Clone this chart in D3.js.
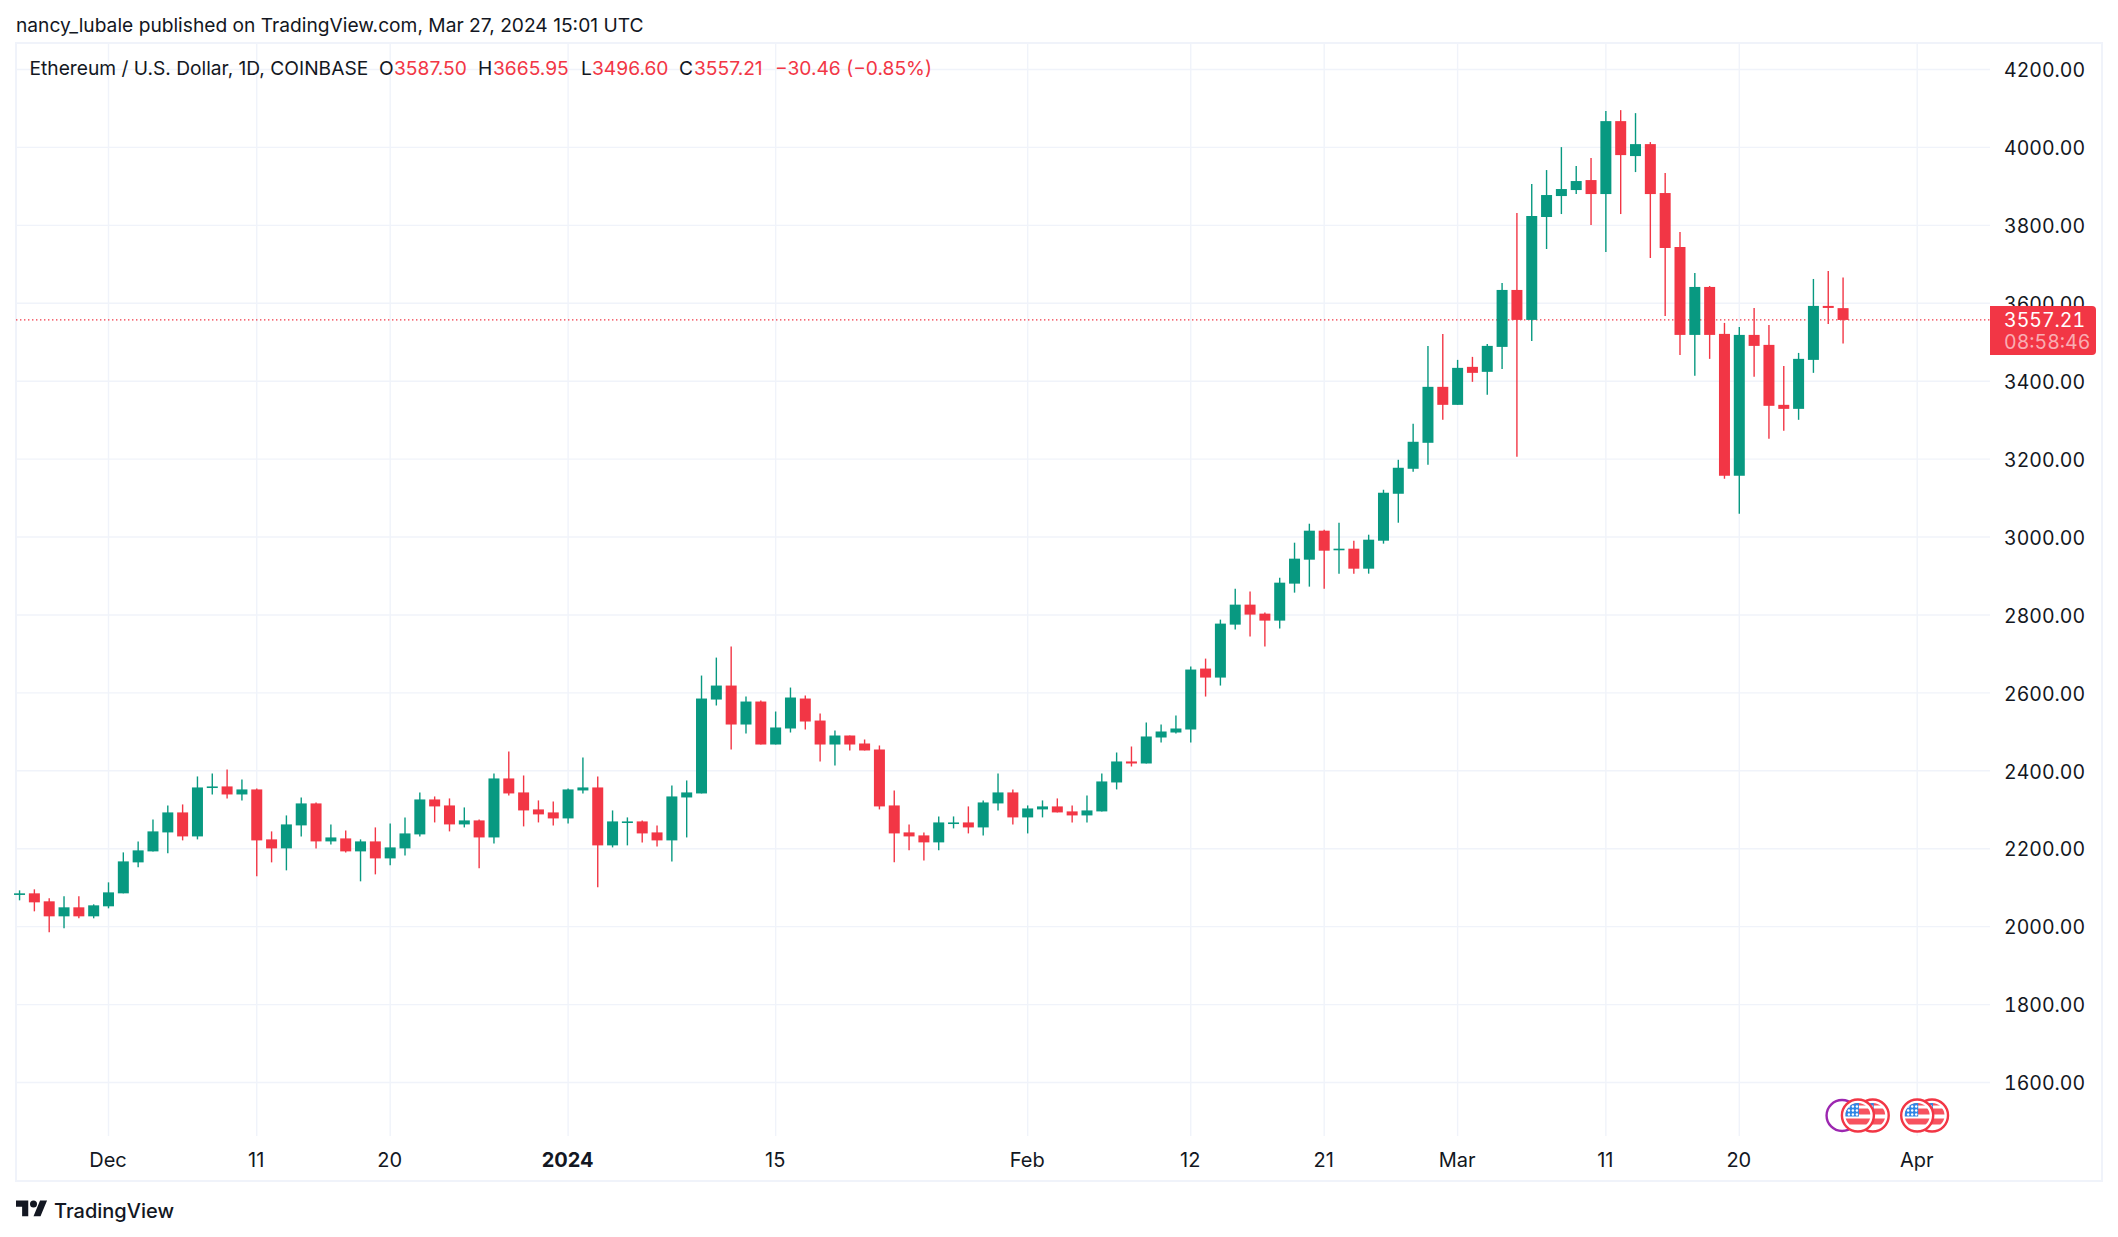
<!DOCTYPE html>
<html>
<head>
<meta charset="utf-8">
<style>
html, body { margin: 0; background: #fff; }
svg { display: block; }
text { font-family: Inter, sans-serif; fill: #131722; }
.axis .domain, .axis line { display: none; }
.axis text { font-family: Inter, sans-serif; font-size: 20px; fill: #131722; }
.price text, .tag { font-feature-settings: "tnum"; }
</style>
</head>
<body>
<div id="ch1"></div>
<script src="https://d3js.org/d3.v7.min.js"></script>
<script>
// daily ETHUSD candles, first one is 25 Nov 2023
var firstDay = "2023-11-25";

var open = [
2083.8,2085.5,2065,2026.5,2049.6,2026.5,2052.2,2085.5,2165,2193.2,2241.9,2293.2,2231.6,2357.3,2359.9,2339.3,
2352.2,2224,2200.9,2259.9,2316.3,2218.8,2226.5,2193.2,2218.8,2175.2,2200.9,2236.8,2326.5,2311.1,2262.4,2272.7,
2229,2380.4,2344.5,2300.9,2293.2,2277.8,2349.6,2357.3,2208.6,2267.5,2270.1,2241.9,2221.4,2331.6,
2341.9,2582.9,2618.8,2518.8,2577.8,2467.5,2508.6,2585.5,2529,2467.5,2490.6,2470.1,2454.7,2311.1,2241.9,2234.2,
2216.3,2265,2267.5,2254.7,2316.3,2344.5,2280.4,2300.9,2308.6,2295.8,2285.5,2295.8,2370.1,2424,2418.8,2485.5,2498.3,2506,
2662.4,2639.3,2775.2,2826.5,2803.4,2785.5,2880.4,2941.9,3016.3,2967.5,2970.1,2918.8,2990.6,3111.1,3175.2,3241.9,
3385.5,3339.3,3436.8,3424,3488,3634.2,3557.3,3821.4,3875.2,3890.6,3916.2,3880.3,4067.5,3977.8,4008.5,3882.9,
3744.4,3518.8,3641.9,3521.4,3157.3,3518.8,3493.2,3339.3,3329,3454.7,3593.2,3587.5
];
var high = [
2093.2,2095.8,2072.7,2077.8,2077.8,2057.3,2113.7,2190.6,2218.8,2275.2,2311.1,2313.7,2385.5,2393.2,2403.4,2377.8,
2354.7,2244.5,2285.5,2331.6,2318.8,2262.4,2247,2224,2254.7,2265,2280.4,2344.5,2334.2,2329.1,2306,2275.2,
2393.2,2449.6,2388,2324,2321.4,2354.7,2434.2,2385.5,2298.3,2280.4,2272.7,2259.9,2362.4,2375.2,
2644.5,2690.6,2718.8,2590.6,2580.4,2552.2,2613.7,2593.2,2547,2503.4,2490.6,2480.4,2465,2349.6,2262.4,2241.9,
2282.9,2282.9,2308.6,2324,2393.2,2352.2,2311.1,2324,2329.1,2311.1,2336.8,2393.2,2447,2462.4,2524,2518.8,2541.9,2667.5,
2688,2788,2867.5,2859.9,2806,2895.7,2985.5,3034.2,3018.8,3036.8,2990.6,3006,3121.4,3198.3,3290.6,3490.6,
3521.4,3454.7,3462.4,3495.7,3652.1,3831.6,3906,3941.9,4000.8,3952.1,3972.6,4093.2,4095.7,4088,4013.7,3934.2,
3782.9,3677.8,3644.4,3549.6,3539.3,3588,3544.4,3439.3,3472.6,3662.4,3682.9,3665.95
];
var low = [
2067.6,2039.3,1985.5,1995.8,2021.4,2021.4,2047,2085.5,2152.2,2193.2,2188.1,2221.4,2224,2339.3,2329.1,2324,
2129.1,2165,2144.5,2231.6,2200.9,2211.1,2190.6,2116.3,2134.2,2157.3,2182.9,2231.6,2267.5,2244.5,2254.7,2149.6,
2213.7,2336.8,2257.3,2267.5,2259.9,2265,2341.9,2100.9,2203.4,2208.6,2216.3,2206,2167.5,2229,
2341.9,2567.6,2454.7,2495.8,2467.5,2467.5,2498.3,2506,2424,2413.7,2452.2,2452.2,2300.9,2165,2195.8,2170.1,
2195.8,2252.2,2239.3,2234.2,2298.3,2262.4,2239.3,2280.4,2293.2,2267.5,2267.5,2295.8,2352.2,2411.1,2418.8,2472.7,2495.8,2472.7,
2590.6,2618.8,2762.4,2744.5,2718.8,2765,2857.3,2872.7,2867.5,2906,2906,2906,2983,3036.8,3167.5,3185.5,
3300.9,3339.3,3398.3,3365,3431.6,3206,3503.4,3739.3,3829,3880.3,3800.8,3731.6,3829,3936.7,3716.2,3567.5,
3467.5,3413.7,3457.3,3149.6,3059.8,3411.1,3252.1,3272.7,3300.9,3421.4,3547,3496.6
];
var close = [
2085.5,2062.4,2026.5,2049.6,2026.5,2054.7,2088,2167.5,2195.8,2244.5,2293.2,2231.6,2357.3,2359.9,2339.3,2352.2,
2221.4,2200.9,2262.4,2316.3,2218.8,2229,2193.2,2218.8,2175.2,2203.4,2239.3,2326.5,2308.6,2262.4,2272.7,2229,
2380.4,2341.9,2298.3,2288.1,2277.8,2352.2,2357.3,2208.6,2270.1,2270.1,2239.3,2221.4,2334.2,2344.5,
2585.5,2618.8,2518.8,2577.8,2467.5,2511.2,2588.1,2526.5,2467.5,2490.6,2467.5,2452.2,2308.6,2239.3,2231.6,2216.3,
2267.5,2267.5,2254.7,2318.8,2344.5,2280.4,2303.4,2308.6,2293.2,2285.5,2298.3,2372.7,2424,2418.8,2488.1,2500.9,2508.6,2659.9,
2639.3,2777.8,2826.5,2800.9,2785.5,2882.9,2944.5,3016.3,2965,2970.1,2918.8,2993.2,3113.7,3177.8,3244.5,3385.5,
3339.3,3434.2,3421.4,3490.6,3634.2,3557.3,3824,3877.8,3893.2,3913.7,3880.3,4067.5,3980.3,4008.5,3880.3,3741.9,
3518.8,3641.9,3518.8,3157.3,3518.8,3490.6,3336.8,3329,3457.3,3593.2,3588,3557.21
];

var priceTicks = [1600,1800,2000,2200,2400,2600,2800,3000,3200,3400,3600,3800,4000,4200];
var timeTicks = ["2023-12-01","2023-12-11","2023-12-20","2024-01-01","2024-01-15","2024-02-01","2024-02-12","2024-02-21","2024-03-01","2024-03-11","2024-03-20","2024-04-01"];
var timeLabels = ["Dec","11","20","2024","15","Feb","12","21","Mar","11","20","Apr"];
var lastPrice = 3557.21;
var countdown = "08:58:46";
var splitEvent = ["2024-03-27"];
var flagEvents = ["2024-03-29","2024-03-28","2024-04-02","2024-04-01"];

var UP = "#089981", DOWN = "#F23645", GRID = "#F0F3FA";

var width = 2118, height = 1237;
var frame = {left: 16, right: 2102, top: 43, bottom: 1181};
var paneRight = 1990, paneBottom = 1136;

var svg = d3.select("#ch1").append("svg")
  .attr("width", width)
  .attr("height", height);

var x = d3.scaleUtc()
  .domain([new Date("2023-12-01"), new Date("2024-04-01")])
  .range([108.5, 1917.2]);

var y = d3.scaleLinear()
  .domain([1600, 4200])
  .range([1082.5, 69.5]);

var days = open.map(function(d, i) {
  return d3.utcDay.offset(new Date(firstDay), i);
});

var candles = days.map(function(d, i) {
  return {date: d, o: open[i], h: high[i], l: low[i], c: close[i]};
});

// grid
svg.append("g").selectAll("line")
  .data(priceTicks)
  .enter().append("line")
  .attr("x1", frame.left).attr("x2", paneRight)
  .attr("y1", function(d) { return y(d); })
  .attr("y2", function(d) { return y(d); })
  .attr("stroke", GRID).attr("stroke-width", 1.4);

svg.append("g").selectAll("line")
  .data(timeTicks)
  .enter().append("line")
  .attr("x1", function(d) { return x(new Date(d)); })
  .attr("x2", function(d) { return x(new Date(d)); })
  .attr("y1", frame.top).attr("y2", paneBottom)
  .attr("stroke", GRID).attr("stroke-width", 1.4);

// frame
svg.append("rect")
  .attr("x", frame.left).attr("y", frame.top)
  .attr("width", frame.right - frame.left)
  .attr("height", frame.bottom - frame.top)
  .attr("fill", "none")
  .attr("stroke", GRID).attr("stroke-width", 2);

// last price line, under the candles
svg.append("line")
  .attr("x1", frame.left).attr("x2", paneRight)
  .attr("y1", y(lastPrice)).attr("y2", y(lastPrice))
  .attr("stroke", DOWN).attr("stroke-width", 1.3)
  .attr("stroke-dasharray", "1.4 2.6");

var bodyWidth = 11;
var candle = svg.append("g").selectAll("g")
  .data(candles)
  .enter().append("g")
  .attr("fill", function(d) { return d.c >= d.o ? UP : DOWN; })
  .attr("stroke", function(d) { return d.c >= d.o ? UP : DOWN; });

candle.append("line")
  .attr("x1", function(d) { return x(d.date); })
  .attr("x2", function(d) { return x(d.date); })
  .attr("y1", function(d) { return y(d.h); })
  .attr("y2", function(d) { return y(d.l); })
  .attr("stroke-width", 1.4);

candle.append("rect")
  .attr("x", function(d) { return x(d.date) - bodyWidth / 2; })
  .attr("y", function(d) { return y(Math.max(d.o, d.c)); })
  .attr("width", bodyWidth)
  .attr("height", function(d) { return Math.max(1.6, Math.abs(y(d.o) - y(d.c))); })
  .attr("stroke", "none");

// axes
svg.append("g")
  .attr("class", "axis price")
  .attr("transform", "translate(2004,1)")
  .call(d3.axisRight(y).tickValues(priceTicks).tickSize(0).tickPadding(0).tickFormat(d3.format(".2f")))
  .selectAll("text")
  .style("font-size", "19.5px");

svg.append("g")
  .attr("class", "axis")
  .attr("transform", "translate(-1,1153)")
  .call(d3.axisBottom(x)
    .tickValues(timeTicks.map(function(d) { return new Date(d); }))
    .tickSize(0).tickPadding(0)
    .tickFormat(function(d, i) { return timeLabels[i]; }))
  .selectAll("text")
  .style("font-weight", function(d, i) { return timeLabels[i] == "2024" ? 700 : 400; });

// price tag
var tagTop = 306, tagBottom = 355, r = 4;
svg.append("path")
  .attr("d", "M" + paneRight + "," + tagTop + "H" + (2096 - r) + "Q2096," + tagTop + " 2096," + (tagTop + r) +
    "V" + (tagBottom - r) + "Q2096," + tagBottom + " " + (2096 - r) + "," + tagBottom + "H" + paneRight + "Z")
  .attr("fill", DOWN);
svg.append("text")
  .attr("class", "tag")
  .attr("x", 2004).attr("y", 326.5)
  .style("font-size", "19.5px").style("fill", "#fff")
  .text(lastPrice.toFixed(2));
svg.append("text")
  .attr("class", "tag")
  .attr("x", 2004).attr("y", 349)
  .style("font-size", "19.5px").style("fill", "#fff").style("fill-opacity", 0.6)
  .text(countdown);

// title lines
svg.append("text")
  .attr("x", 16).attr("y", 32)
  .style("font-size", "19.2px")
  .text("nancy_lubale published on TradingView.com, Mar 27, 2024 15:01 UTC");

var legendParts = [
  {x: 29.5, s: "Ethereum / U.S. Dollar, 1D, COINBASE", red: false},
  {x: 379, s: "O", red: false},
  {x: 394, s: "3587.50", red: true},
  {x: 478, s: "H", red: false},
  {x: 493, s: "3665.95", red: true},
  {x: 581, s: "L", red: false},
  {x: 592, s: "3496.60", red: true},
  {x: 679, s: "C", red: false},
  {x: 694, s: "3557.21", red: true},
  {x: 775, s: "\u221230.46 (\u22120.85%)", red: true}
];
svg.append("g").selectAll("text")
  .data(legendParts)
  .enter().append("text")
  .attr("x", function(d) { return d.x; })
  .attr("y", 75)
  .style("font-size", "19.2px")
  .style("fill", function(d) { return d.red ? DOWN : "#131722"; })
  .text(function(d) { return d.s; });

// event markers at the bottom of the pane
var eventY = 1115.5;
svg.append("g").selectAll("circle")
  .data(splitEvent)
  .enter().append("circle")
  .attr("cx", function(d) { return x(new Date(d)) - 1; })
  .attr("cy", eventY).attr("r", 15.5)
  .attr("fill", "#fff").attr("stroke", "#9C27B0").attr("stroke-width", 2.4);

var defs = svg.append("defs");
defs.append("clipPath").attr("id", "flagClip")
  .append("circle").attr("r", 12.5);

var flag = svg.append("g").selectAll("g")
  .data(flagEvents)
  .enter().append("g")
  .attr("transform", function(d) { return "translate(" + x(new Date(d)) + "," + eventY + ")"; });

flag.append("circle").attr("r", 16)
  .attr("fill", "#fff").attr("stroke", DOWN).attr("stroke-width", 2.4);

var flagInner = flag.append("g").attr("clip-path", "url(#flagClip)");
flagInner.append("rect").attr("x", -13).attr("y", -13).attr("width", 26).attr("height", 26).attr("fill", "#fff");
flagInner.append("rect").attr("x", -13).attr("y", -7).attr("width", 26).attr("height", 6).attr("fill", "#F7525F");
flagInner.append("rect").attr("x", -13).attr("y", 3).attr("width", 26).attr("height", 6).attr("fill", "#F7525F");
flagInner.append("rect").attr("x", -13).attr("y", -13).attr("width", 26).attr("height", 3).attr("fill", "#F7525F");
flagInner.append("rect").attr("x", -13).attr("y", -13).attr("width", 14).attr("height", 14).attr("fill", "#2E86E6");

var starX = [-9, -5, -1], starY = [-9, -5, -1];
starX.forEach(function(sx) {
  starY.forEach(function(sy) {
    flagInner.append("circle").attr("cx", sx).attr("cy", sy).attr("r", 1.2).attr("fill", "#fff");
  });
});

// logo and name
var logo = svg.append("g").attr("transform", "translate(16,1197) scale(0.875)").attr("fill", "#131722");
logo.append("path").attr("d", "M14 22H7V11H0V4h14v18zM28 22h-8l7.5-18h8L28 22z");
logo.append("circle").attr("cx", 20).attr("cy", 8).attr("r", 4);

svg.append("text")
  .attr("x", 54).attr("y", 1218)
  .style("font-size", "20px").style("font-weight", 500)
  .text("TradingView");
</script>
</body>
</html>
